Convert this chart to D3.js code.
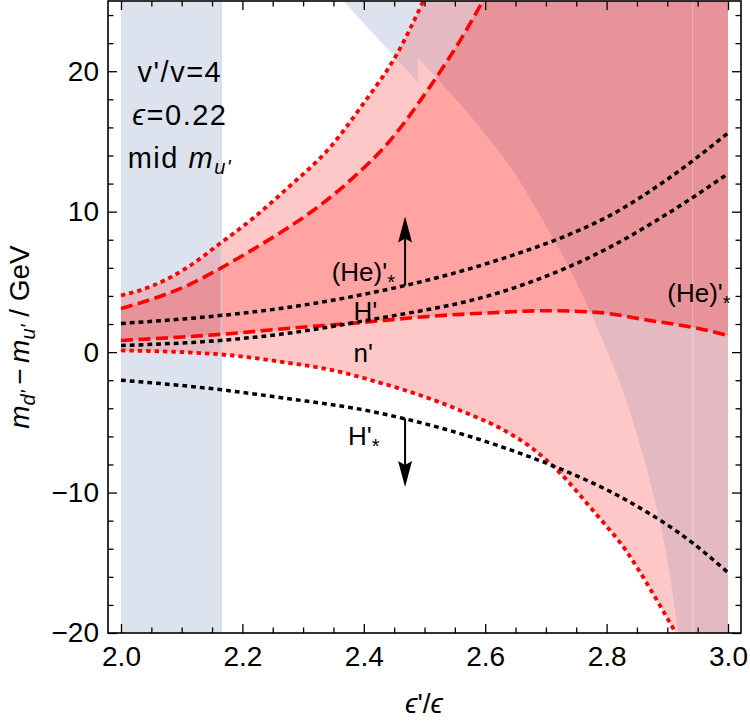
<!DOCTYPE html>
<html>
<head>
<meta charset="utf-8">
<script src="https://cdn.jsdelivr.net/npm/d3@7"></script>
<style>
  body { margin: 0; background: #fff; }
  text { font-family: "Liberation Sans", Arial, sans-serif; fill: #000; }
</style>
</head>
<body>
<div class="chart"></div>
<script>
// values: [eps'/eps, m_d' - m_u' (GeV)]
var redDottedUpper = [[2.0, 4.03], [2.053, 4.74], [2.109, 6.02], [2.163, 7.73], [2.217, 9.51],
                      [2.273, 11.63], [2.344, 14.56], [2.399, 17.68], [2.455, 21.25], [2.498, 25.0]];
var redDashedUpper = [[2.0, 3.1], [2.053, 3.8], [2.109, 4.74], [2.163, 5.95], [2.217, 7.3],
                      [2.273, 8.8], [2.328, 10.45], [2.382, 12.4], [2.44, 14.9], [2.509, 18.9],
                      [2.563, 22.5], [2.596, 25.0]];
var redDashedLower = [[2.0, 0.83], [2.163, 1.26], [2.273, 1.68], [2.394, 2.1], [2.5, 2.52],
                      [2.624, 2.83], [2.70, 2.95], [2.784, 2.83], [2.87, 2.26], [2.942, 1.76], [3.0, 1.19]];
var redDottedLower = [[2.0, 0.12], [2.163, -0.16], [2.273, -0.75], [2.35, -1.3], [2.42, -2.1],
                      [2.488, -3.0], [2.57, -4.35], [2.624, -5.4], [2.679, -6.9], [2.723, -8.6],
                      [2.778, -11.3], [2.833, -14.2], [2.871, -16.8], [2.91, -19.7], [2.914, -20.0]];
var heStarLine = [[2.0, 2.04], [2.163, 2.6], [2.273, 3.17], [2.41, 4.2], [2.468, 4.74], [2.624, 6.6],
                  [2.756, 8.7], [2.8, 9.6], [2.9, 12.3], [3.0, 15.6]];
var hPrimeLine = [[2.0, 0.47], [2.163, 0.83], [2.273, 1.33], [2.41, 2.3], [2.624, 4.25],
                  [2.734, 6.0], [2.8, 7.35], [2.9, 9.85], [3.0, 12.7]];
var hStarLine = [[2.0, -2.0], [2.163, -2.67], [2.273, -3.3], [2.41, -4.2], [2.468, -4.75],
                 [2.624, -6.7], [2.723, -8.3], [2.833, -10.55], [2.942, -13.6], [3.0, -15.7]];
// excluded (blue) region: left band and right-hand boundary (upper straight piece, then curved piece)
var blueBand = [2.0, 2.165];
var blueEdgeTop = [[2.366, 25], [2.4895, 19.2]];
var blueEdgeCurve = [[2.4895, 20.95], [2.591, 16.0], [2.646, 12.9], [2.70, 9.0], [2.75, 5.0],
                     [2.79, 1.2], [2.822, -2.2], [2.855, -6.6], [2.878, -10.3], [2.90, -14.8], [2.918, -20]];
var seamX = 2.942;

var xMajorTicks = [2.0, 2.2, 2.4, 2.6, 2.8, 3.0];
var yMajorTicks = [-20, -10, 0, 10, 20];

var width = 750, height = 725;
var frame = { left: 108, right: 741, top: 1, bottom: 633 };

var svg = d3.select(".chart").append("svg")
            .attr("width", width)
            .attr("height", height);

var x = d3.scaleLinear().domain([2, 3]).range([121, 728]);
var y = d3.scaleLinear().domain([-20, 25]).range([633, 1]);

var line = d3.line()
             .x(function(d) { return x(d[0]); })
             .y(function(d) { return y(d[1]); })
             .curve(d3.curveMonotoneX);

var straight = d3.line()
                 .x(function(d) { return x(d[0]); })
                 .y(function(d) { return y(d[1]); });

function reversePath(pts) {
  return line(pts.slice().reverse()).replace(/^M/, "L");
}

var lightPath = line(redDottedUpper)
                + "L" + x(3) + "," + y(25)
                + "L" + x(3) + "," + y(-20)
                + reversePath(redDottedLower) + "Z";

var darkPath = line(redDashedUpper)
               + "L" + x(3) + "," + y(25)
               + reversePath(redDashedLower) + "Z";

var bluePath = straight(blueEdgeTop)
               + line(blueEdgeCurve).replace(/^M/, "L")
               + "L" + x(3) + "," + y(-20)
               + "L" + x(3) + "," + y(25) + "Z";

var defs = svg.append("defs");
var blueClip = defs.append("clipPath").attr("id", "blueClip");
blueClip.append("rect")
        .attr("x", x(blueBand[0])).attr("y", y(25))
        .attr("width", x(blueBand[1]) - x(blueBand[0]))
        .attr("height", y(-20) - y(25));
blueClip.append("path").attr("d", bluePath);

defs.append("clipPath").attr("id", "plotClip")
    .append("rect")
    .attr("x", frame.left).attr("y", frame.top)
    .attr("width", frame.right - frame.left)
    .attr("height", frame.bottom - frame.top);

var plot = svg.append("g").attr("clip-path", "url(#plotClip)");

// regions
plot.append("rect")
    .attr("x", x(blueBand[0])).attr("y", y(25))
    .attr("width", x(blueBand[1]) - x(blueBand[0]))
    .attr("height", y(-20) - y(25))
    .style("fill", "#dde3ee");
plot.append("path").attr("d", bluePath).style("fill", "#dde3ee");

plot.append("path").attr("d", lightPath).style("fill", "#ffc8c8");
plot.append("path").attr("d", darkPath).style("fill", "#ffa3a3");

var overlap = plot.append("g").attr("clip-path", "url(#blueClip)");
overlap.append("path").attr("d", lightPath).style("fill", "#e4b9c2");
overlap.append("path").attr("d", darkPath).style("fill", "#e8939a");

plot.append("line")
    .attr("x1", x(blueBand[1])).attr("x2", x(blueBand[1]))
    .attr("y1", y(25)).attr("y2", y(-20))
    .style("stroke", "#ccd5e6").style("stroke-width", 1);

plot.append("line")
    .attr("x1", x(seamX)).attr("x2", x(seamX))
    .attr("y1", y(25)).attr("y2", y(-20))
    .style("stroke", "#ffffff").style("stroke-opacity", 0.3).style("stroke-width", 1);

// curves
var curves = [
  { pts: redDottedUpper, color: "#ff0000", dash: "4.4,4", w: 3.8 },
  { pts: redDottedLower, color: "#ff0000", dash: "4.4,4", w: 3.8 },
  { pts: redDashedUpper, color: "#ff0000", dash: "12,5.5", w: 3.6 },
  { pts: redDashedLower, color: "#ff0000", dash: "12,5.5", w: 3.6 },
  { pts: heStarLine, color: "#000000", dash: "4.8,4", w: 3.5 },
  { pts: hPrimeLine, color: "#000000", dash: "4.8,4", w: 3.5 },
  { pts: hStarLine, color: "#000000", dash: "4.8,4", w: 3.5 }
];

plot.selectAll("path.curve")
    .data(curves)
    .enter()
    .append("path")
    .attr("class", "curve")
    .attr("d", function(d) { return line(d.pts); })
    .style("fill", "none")
    .style("stroke", function(d) { return d.color; })
    .style("stroke-width", function(d) { return d.w; })
    .style("stroke-dasharray", function(d) { return d.dash; });

// arrows
function arrow(xv, y0, y1) {
  var px = x(xv), p0 = y(y0), p1 = y(y1);
  var dir = p1 < p0 ? 1 : -1;
  var headLen = 26, half = 7;
  plot.append("line")
      .attr("x1", px).attr("x2", px)
      .attr("y1", p0).attr("y2", p1 + dir * (headLen - 4))
      .style("stroke", "#000").style("stroke-width", 2);
  var pts = [[px, p1], [px + half, p1 + dir * headLen], [px, p1 + dir * (headLen - 4)], [px - half, p1 + dir * headLen]];
  plot.append("polygon")
      .attr("points", pts.map(function(p) { return p.join(","); }).join(" "))
      .style("fill", "#000");
}
arrow(2.468, 4.74, 9.65);
arrow(2.468, -4.72, -9.6);

// labels
var fs = 26;
function addLabel(xv, yv, main, sub) {
  var t = svg.append("text")
             .attr("x", x(xv)).attr("y", y(yv))
             .style("font-size", fs + "px");
  t.append("tspan").text(main);
  if (sub) {
    t.append("tspan").text(sub).attr("dy", 8).style("font-size", "20px");
  }
}
addLabel(2.347, 5.05, "(He)'", "*");
addLabel(2.383, 2.27, "H'");
addLabel(2.383, -0.72, "n'");
addLabel(2.374, -6.6, "H'", "*");
addLabel(2.9, 3.55, "(He)'", "*");

var block = svg.append("g").style("font-size", "29px").style("letter-spacing", "1.5px");
block.append("text")
     .attr("x", x(2.097)).attr("y", y(19.25))
     .style("text-anchor", "middle")
     .text("v'/v=4");
var l2 = block.append("text")
     .attr("x", x(2.097)).attr("y", y(16.2))
     .style("text-anchor", "middle");
l2.append("tspan").style("font-style", "italic").text("ϵ");
l2.append("tspan").text("=0.22");
var l3 = block.append("text")
     .attr("x", x(2.097)).attr("y", y(13.1))
     .style("text-anchor", "middle");
l3.append("tspan").text("mid ");
l3.append("tspan").style("font-style", "italic").text("m");
l3.append("tspan").style("font-style", "italic").style("font-size", "20px").attr("dy", 6).text("u'");

// axes (ticks point inward)
function styleAxis(g) {
  g.select(".domain").remove();
  g.selectAll(".tick line").style("stroke", "#000").style("stroke-width", 1.3);
  g.selectAll("text").style("font-family", '"Liberation Sans", Arial, sans-serif')
                     .style("font-size", "28px").style("fill", "#000");
}

var xMinor = d3.range(2.0, 3.001, 0.05).filter(function(v) { return Math.abs(v * 5 - Math.round(v * 5)) > 1e-6; });
var yMinor = d3.range(-20, 25.001, 2).filter(function(v) { return v % 10 !== 0; });

svg.append("g").attr("transform", "translate(0," + frame.bottom + ")")
   .call(d3.axisBottom(x).tickValues(xMajorTicks).tickSize(-9).tickPadding(13).tickFormat(d3.format(".1f")))
   .call(styleAxis);
svg.append("g").attr("transform", "translate(0," + frame.bottom + ")")
   .call(d3.axisBottom(x).tickValues(xMinor).tickSize(-5.5).tickFormat(""))
   .call(styleAxis);
svg.append("g").attr("transform", "translate(0," + frame.top + ")")
   .call(d3.axisTop(x).tickValues(xMajorTicks).tickSize(-9).tickFormat(""))
   .call(styleAxis);
svg.append("g").attr("transform", "translate(0," + frame.top + ")")
   .call(d3.axisTop(x).tickValues(xMinor).tickSize(-5.5).tickFormat(""))
   .call(styleAxis);

svg.append("g").attr("transform", "translate(" + frame.left + ",0)")
   .call(d3.axisLeft(y).tickValues(yMajorTicks).tickSize(-9).tickPadding(9).tickFormat(d3.format("d")))
   .call(styleAxis);
svg.append("g").attr("transform", "translate(" + frame.left + ",0)")
   .call(d3.axisLeft(y).tickValues(yMinor).tickSize(-5.5).tickFormat(""))
   .call(styleAxis);
svg.append("g").attr("transform", "translate(" + frame.right + ",0)")
   .call(d3.axisRight(y).tickValues(yMajorTicks).tickSize(-9).tickFormat(""))
   .call(styleAxis);
svg.append("g").attr("transform", "translate(" + frame.right + ",0)")
   .call(d3.axisRight(y).tickValues(yMinor).tickSize(-5.5).tickFormat(""))
   .call(styleAxis);

svg.append("rect")
   .attr("x", frame.left).attr("y", frame.top)
   .attr("width", frame.right - frame.left)
   .attr("height", frame.bottom - frame.top)
   .style("fill", "none").style("stroke", "#000").style("stroke-width", 1.6);

// axis titles
var xt = svg.append("text")
            .attr("x", 424).attr("y", 713)
            .style("text-anchor", "middle")
            .style("font-size", "28px");
xt.append("tspan").style("font-style", "italic").text("ϵ");
xt.append("tspan").text("'/");
xt.append("tspan").style("font-style", "italic").text("ϵ");

var yt = svg.append("text")
            .attr("transform", "translate(29,337) rotate(-90)")
            .style("text-anchor", "middle")
            .style("font-size", "28px");
yt.append("tspan").style("font-style", "italic").text("m");
yt.append("tspan").style("font-style", "italic").style("font-size", "20px").attr("dy", 6).text("d'");
yt.append("tspan").attr("dy", -6).text("\u2009−\u2009");
yt.append("tspan").style("font-style", "italic").text("m");
yt.append("tspan").style("font-style", "italic").style("font-size", "20px").attr("dy", 6).text("u'");
yt.append("tspan").attr("dy", -6).text(" / GeV");
</script>
</body>
</html>
